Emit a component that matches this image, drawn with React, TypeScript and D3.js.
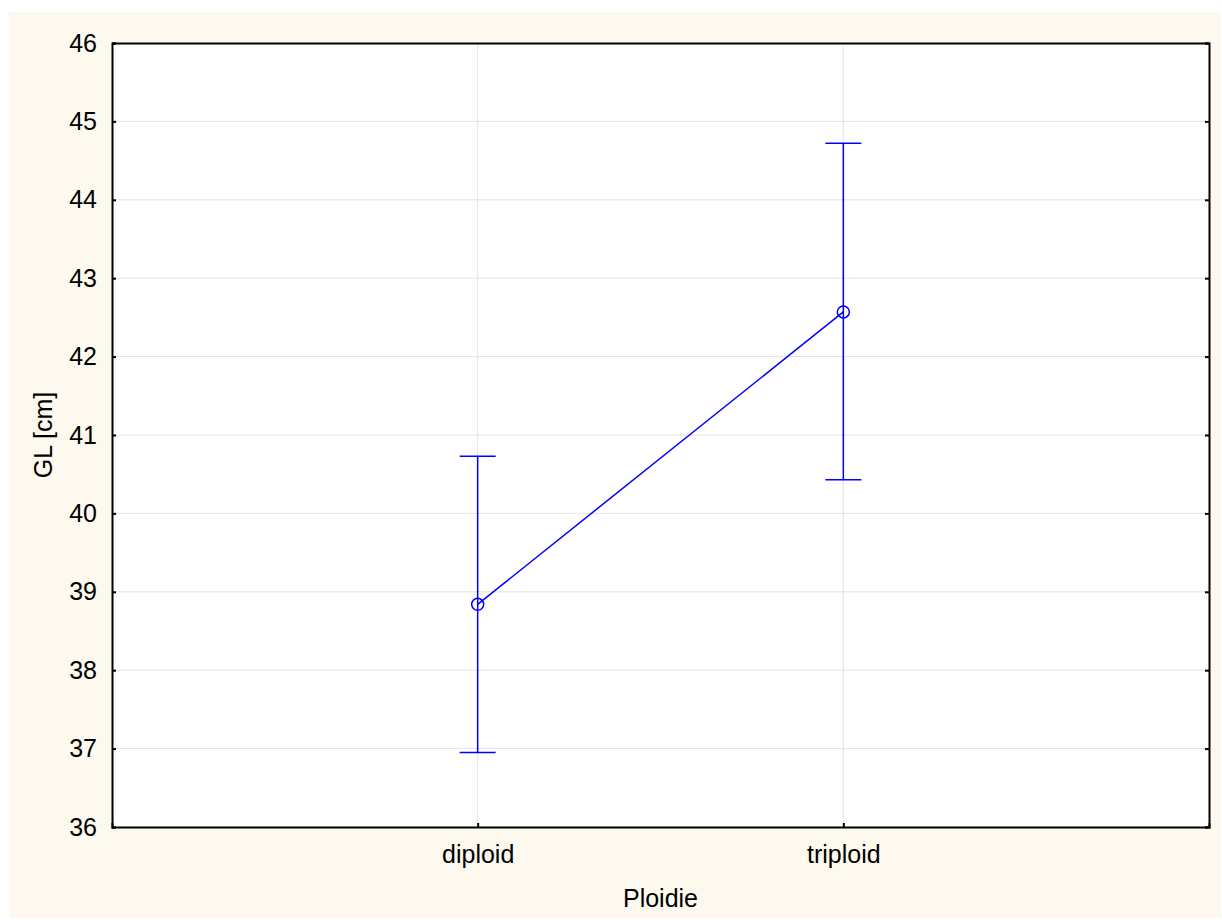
import * as d3 from "d3";
import React, { useEffect, useRef } from "react";

const categories = ["diploid", "triploid"];
const means = [38.84, 42.57];
const lower = [36.95, 40.43];
const upper = [40.73, 44.72];
const yTicks = [36, 37, 38, 39, 40, 41, 42, 43, 44, 45, 46];

const W = 1222;
const H = 920;
const margin = { top: 43, right: 13, bottom: 93, left: 112 };

const App: React.FC = () => {
  const svgRef = useRef<SVGSVGElement>(null);

  useEffect(() => {
    const svg = d3.select(svgRef.current);
    svg.selectAll("*").remove();

    const plotW = W - margin.left - margin.right;
    const plotH = H - margin.top - margin.bottom;
    const font = "'Liberation Sans', Arial, sans-serif";

    svg.append("rect").attr("x", 9).attr("y", 12).attr("width", 1212).attr("height", 906).attr("fill", "#fdf9ee");

    const g = svg.append("g").attr("transform", `translate(${margin.left}, ${margin.top})`);
    g.append("rect").attr("width", plotW).attr("height", plotH).attr("fill", "#fff");

    const x = d3.scalePoint().domain(categories).range([0, plotW]).padding(1);
    const y = d3.scaleLinear().domain([36, 46]).range([plotH, 0]);

    // grid
    g.selectAll(".hgrid")
      .data(yTicks.slice(1, -1))
      .enter()
      .append("line")
      .attr("x1", 0)
      .attr("x2", plotW)
      .attr("y1", (d) => y(d))
      .attr("y2", (d) => y(d))
      .attr("stroke", "#e2e2e2")
      .attr("stroke-width", 1);
    g.selectAll(".vgrid")
      .data(categories)
      .enter()
      .append("line")
      .attr("x1", (d) => x(d)!)
      .attr("x2", (d) => x(d)!)
      .attr("y1", 0)
      .attr("y2", plotH)
      .attr("stroke", "#e2e2e2")
      .attr("stroke-width", 1);

    // axes
    const left = g.append("g").call(d3.axisLeft(y).tickValues(yTicks).tickSize(-4).tickPadding(15).tickFormat(d3.format("d")));
    const right = g.append("g").attr("transform", `translate(${plotW},0)`).call(d3.axisRight(y).tickValues(yTicks).tickSize(-4).tickFormat(() => ""));
    const bottom = g.append("g").attr("transform", `translate(0,${plotH})`).call(d3.axisBottom(x).tickSize(-4).tickPadding(18));
    const top = g.append("g").call(d3.axisTop(x).tickSize(0).tickFormat(() => ""));
    [left, right, bottom, top].forEach((a) => {
      a.attr("font-size", null).attr("font-family", null);
      a.select(".domain").attr("stroke", "#000").attr("stroke-width", 2);
      a.selectAll(".tick line").attr("stroke", "#000").attr("stroke-width", 2);
      a.selectAll("text").style("font-family", font).style("font-size", "25px").attr("fill", "#000");
    });
    top.selectAll(".tick").remove();

    // series
    const blue = "#0000ff";
    const pts = categories.map((c, i) => ({ c, m: means[i], lo: lower[i], hi: upper[i] }));
    g.append("path")
      .datum(pts)
      .attr("fill", "none")
      .attr("stroke", blue)
      .attr("stroke-width", 1.5)
      .attr("d", d3.line<any>().x((d) => x(d.c)!).y((d) => y(d.m)));
    const eb = g.selectAll(".eb").data(pts).enter().append("g");
    eb.append("line")
      .attr("x1", (d) => x(d.c)!)
      .attr("x2", (d) => x(d.c)!)
      .attr("y1", (d) => y(d.lo))
      .attr("y2", (d) => y(d.hi))
      .attr("stroke", blue)
      .attr("stroke-width", 1.5);
    [(d: any) => y(d.lo), (d: any) => y(d.hi)].forEach((fy) => {
      eb.append("line")
        .attr("x1", (d) => x(d.c)! - 18)
        .attr("x2", (d) => x(d.c)! + 18)
        .attr("y1", fy)
        .attr("y2", fy)
        .attr("stroke", blue)
        .attr("stroke-width", 1.5);
    });
    eb.append("circle")
      .attr("cx", (d) => x(d.c)!)
      .attr("cy", (d) => y(d.m))
      .attr("r", 6)
      .attr("fill", "none")
      .attr("stroke", blue)
      .attr("stroke-width", 1.5);

    // titles
    svg.append("text")
      .attr("x", margin.left + plotW / 2)
      .attr("y", 907)
      .attr("text-anchor", "middle")
      .style("font-family", font)
      .style("font-size", "25px")
      .text("Ploidie");
    svg.append("text")
      .attr("transform", `translate(52, ${margin.top + plotH / 2}) rotate(-90)`)
      .attr("text-anchor", "middle")
      .style("font-family", font)
      .style("font-size", "25px")
      .text("GL [cm]");
  }, []);

  return <svg ref={svgRef} width={W} height={H} style={{ position: "absolute", left: 0, top: 0 }}></svg>;
};

export default App;
